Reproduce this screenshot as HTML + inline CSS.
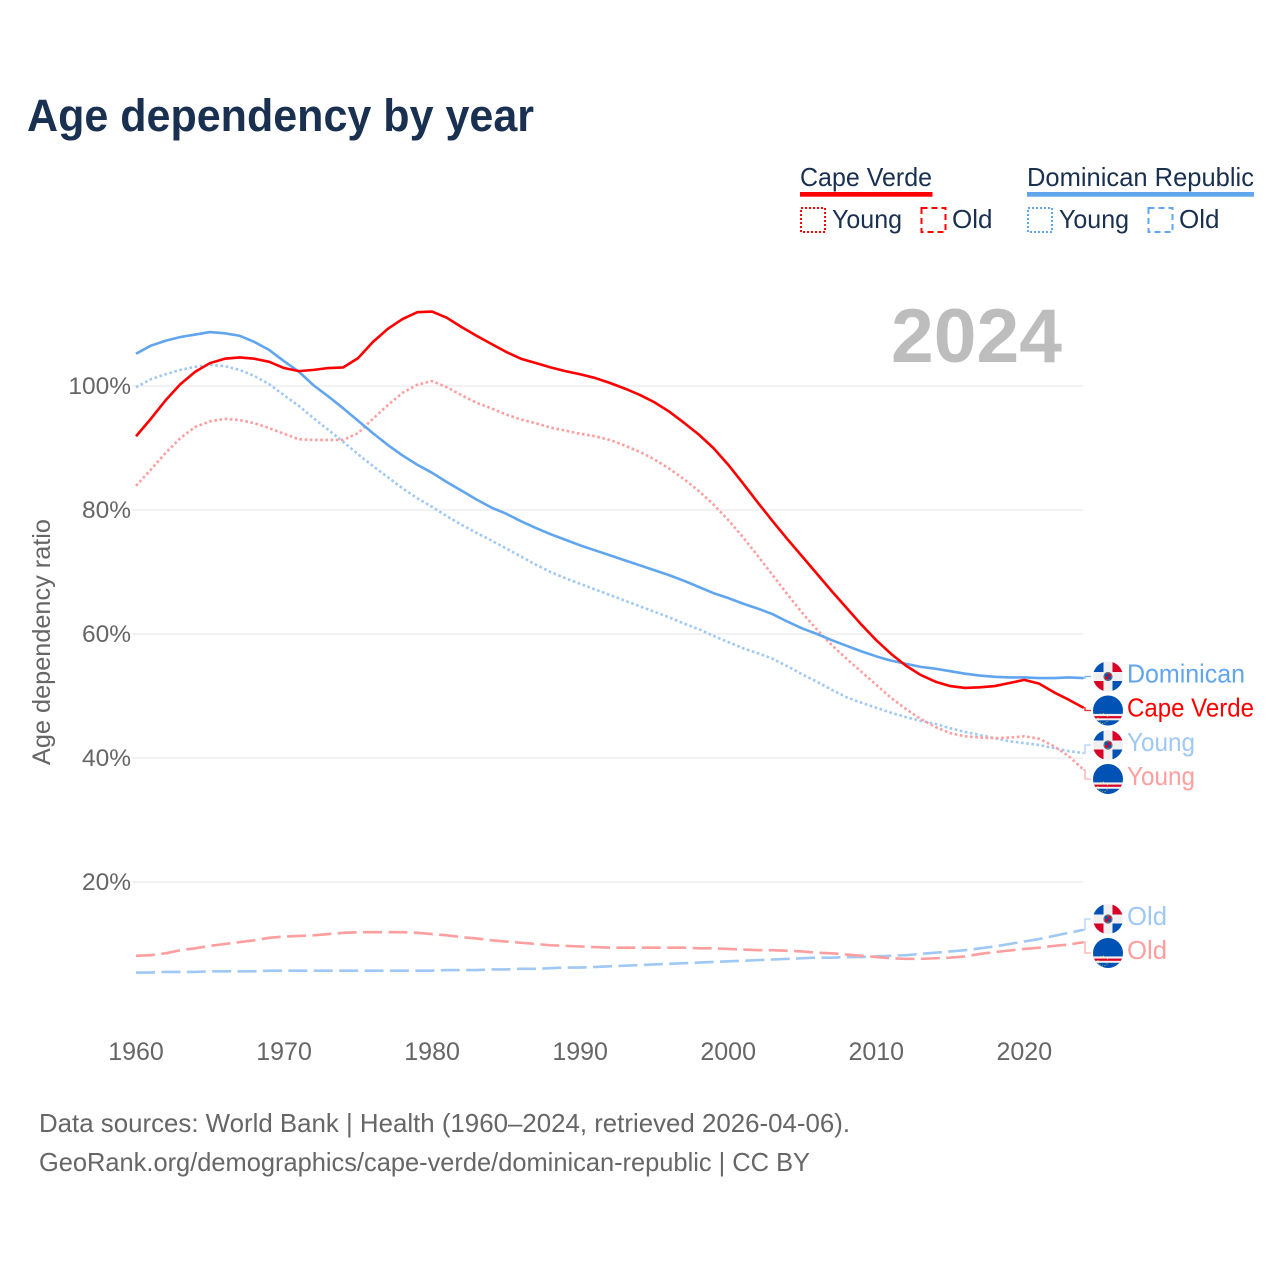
<!DOCTYPE html>
<html lang="en">
<head>
<meta charset="utf-8">
<title>Age dependency by year</title>
<style>
html,body{margin:0;padding:0;background:#fff;width:1280px;height:1280px;overflow:hidden}
svg{display:block}
text{font-family:"Liberation Sans",sans-serif}
</style>
</head>
<body>
<svg id="chart" xmlns="http://www.w3.org/2000/svg" width="1280" height="1280" viewBox="0 0 1280 1280">
  <defs>
    <clipPath id="flag-clip"><circle cx="0" cy="0" r="15"/></clipPath>
    <g id="flag-dr" clip-path="url(#flag-clip)">
      <rect x="-15" y="-15" width="30" height="30" fill="#f0f0f0"/>
      <rect x="-15" y="-15" width="10.5" height="10.5" fill="#0052b4"/>
      <rect x="4.5" y="-15" width="10.5" height="10.5" fill="#d80027"/>
      <rect x="-15" y="4.5" width="10.5" height="10.5" fill="#d80027"/>
      <rect x="4.5" y="4.5" width="10.5" height="10.5" fill="#0052b4"/>
      <circle r="4.6" fill="#6b6b7a"/>
      <rect x="-2.8" y="-2.8" width="2.8" height="2.8" fill="#0052b4"/>
      <rect x="0" y="-2.8" width="2.8" height="2.8" fill="#d80027"/>
      <rect x="-2.8" y="0" width="2.8" height="2.8" fill="#d80027"/>
      <rect x="0" y="0" width="2.8" height="2.8" fill="#0052b4"/>
    </g>
    <g id="flag-cv" clip-path="url(#flag-clip)">
      <rect x="-15" y="-15" width="30" height="30" fill="#0052b4"/>
      <rect x="-15" y="3.4" width="30" height="6.4" fill="#f0f0f0"/>
      <rect x="-15" y="5.6" width="30" height="2.2" fill="#d80027"/>
      <circle cx="-5" cy="8" r="5" fill="none" stroke="#ffda44" stroke-width="1" stroke-dasharray="1 1.6" opacity=".8"/>
    </g>
  </defs>

  <text x="27" y="131" font-size="45" font-weight="700" fill="#1a3050" textLength="507" lengthAdjust="spacingAndGlyphs">Age dependency by year</text>

  <g font-size="26" fill="#1a3050">
    <g>
      <text x="800" y="186" textLength="132" lengthAdjust="spacingAndGlyphs">Cape Verde</text>
      <rect x="800" y="192" width="132.5" height="4.7" fill="#ff0000"/>
      <rect x="801" y="208" width="24" height="24" fill="none" stroke="#ff0000" stroke-width="2" stroke-dasharray="2 2"/>
      <text x="832" y="228" textLength="70" lengthAdjust="spacingAndGlyphs">Young</text>
      <rect x="921.5" y="208" width="24" height="24" fill="none" stroke="#ff0000" stroke-width="2" stroke-dasharray="6 4"/>
      <text x="952" y="228" textLength="40.5" lengthAdjust="spacingAndGlyphs">Old</text>
    </g>
    <g>
      <text x="1027" y="186" textLength="227" lengthAdjust="spacingAndGlyphs">Dominican Republic</text>
      <rect x="1027" y="192" width="227" height="4.7" fill="#60a5ee"/>
      <rect x="1028" y="208" width="24" height="24" fill="none" stroke="#60a5ee" stroke-width="2" stroke-dasharray="2 2"/>
      <text x="1059" y="228" textLength="70" lengthAdjust="spacingAndGlyphs">Young</text>
      <rect x="1148.5" y="208" width="24" height="24" fill="none" stroke="#60a5ee" stroke-width="2" stroke-dasharray="6 4"/>
      <text x="1179" y="228" textLength="40.5" lengthAdjust="spacingAndGlyphs">Old</text>
    </g>
  </g>

  <text transform="translate(50,765) rotate(-90)" font-size="25" fill="#666666" textLength="246" lengthAdjust="spacingAndGlyphs">Age dependency ratio</text>

  <g id="grid"></g>
  <g id="y-ticks"></g>
  <g id="x-ticks"></g>

  <text x="891" y="362" font-size="76" font-weight="700" fill="#bdbdbd" textLength="171" lengthAdjust="spacingAndGlyphs">2024</text>

  <g id="series"></g>
  <g id="end-labels"></g>

  <g font-size="26" fill="#666666">
    <text x="39" y="1132" textLength="811" lengthAdjust="spacingAndGlyphs">Data sources: World Bank | Health (1960–2024, retrieved 2026-04-06).</text>
    <text x="39" y="1171" textLength="771" lengthAdjust="spacingAndGlyphs">GeoRank.org/demographics/cape-verde/dominican-republic | CC BY</text>
  </g>
</svg>
<script>
var startYear = 1960;
var yTickValues = [20, 40, 60, 80, 100];
var xTickValues = [1960, 1970, 1980, 1990, 2000, 2010, 2020];

var capeVerdeTotal = [91.9,94.7,97.7,100.3,102.3,103.7,104.4,104.6,104.4,103.9,102.9,102.4,102.6,102.9,103.0,104.5,107.1,109.2,110.8,111.9,112.0,111.0,109.5,108.1,106.8,105.5,104.4,103.7,103.0,102.4,101.9,101.3,100.5,99.6,98.6,97.4,95.9,94.1,92.2,90.0,87.3,84.3,81.2,78.2,75.3,72.5,69.7,66.9,64.2,61.5,59.0,56.8,54.9,53.4,52.3,51.6,51.3,51.4,51.6,52.1,52.6,52.0,50.6,49.4,48.1];
var dominicanTotal = [105.2,106.5,107.3,107.9,108.3,108.7,108.5,108.1,107.1,105.8,104.0,102.3,100.1,98.3,96.4,94.4,92.4,90.5,88.8,87.3,86.0,84.5,83.1,81.7,80.4,79.4,78.2,77.1,76.1,75.2,74.3,73.5,72.7,71.9,71.1,70.3,69.5,68.6,67.6,66.6,65.8,64.9,64.1,63.2,62.0,60.9,60.0,59.0,58.1,57.2,56.4,55.7,55.2,54.7,54.4,54.0,53.6,53.3,53.1,53.0,53.0,52.9,52.9,53.0,52.9];
var capeVerdeYoung = [83.9,86.5,89.2,91.6,93.4,94.3,94.7,94.5,94.0,93.2,92.3,91.4,91.3,91.3,91.3,92.4,94.7,96.9,98.9,100.2,100.8,99.8,98.5,97.3,96.4,95.4,94.6,94.0,93.3,92.8,92.3,91.9,91.3,90.4,89.4,88.2,86.7,85.0,83.1,80.9,78.4,75.6,72.6,69.5,66.4,63.4,60.7,58.2,56.0,53.9,51.8,49.7,47.9,46.3,45.0,44.0,43.5,43.3,43.2,43.3,43.5,43.1,41.9,40.3,38.1];
var dominicanYoung = [99.8,101.1,101.9,102.6,103.1,103.4,103.2,102.6,101.6,100.3,98.5,96.8,94.8,92.9,91.0,89.0,87.1,85.3,83.5,81.9,80.5,79.0,77.6,76.3,75.1,73.8,72.5,71.2,70.0,69.0,68.1,67.2,66.3,65.4,64.5,63.6,62.7,61.7,60.8,59.7,58.7,57.7,56.9,56.0,54.8,53.5,52.3,51.0,49.8,48.9,48.1,47.3,46.6,46.0,45.5,44.8,44.2,43.7,43.2,42.7,42.4,42.1,41.6,41.1,40.8];
var capeVerdeOld = [8.1,8.2,8.5,9.0,9.3,9.7,10.0,10.3,10.6,11.0,11.2,11.3,11.4,11.6,11.8,11.9,11.9,11.9,11.9,11.8,11.6,11.4,11.1,10.9,10.6,10.4,10.2,10.0,9.8,9.7,9.6,9.5,9.4,9.4,9.4,9.4,9.4,9.4,9.3,9.3,9.2,9.1,9.0,9.0,8.9,8.8,8.6,8.5,8.3,8.1,7.9,7.7,7.6,7.6,7.7,7.8,8.0,8.4,8.7,8.95,9.2,9.4,9.7,9.9,10.3];
var dominicanOld = [5.4,5.4,5.5,5.5,5.5,5.6,5.6,5.6,5.6,5.7,5.7,5.7,5.7,5.7,5.7,5.7,5.7,5.7,5.7,5.7,5.7,5.8,5.8,5.8,5.9,5.9,6.0,6.0,6.1,6.2,6.2,6.3,6.4,6.5,6.6,6.7,6.8,6.9,7.0,7.1,7.2,7.3,7.4,7.5,7.6,7.7,7.8,7.8,7.9,7.9,8.0,8.1,8.2,8.4,8.6,8.8,9.0,9.3,9.6,10.0,10.4,10.8,11.3,11.8,12.3];

var NS = 'http://www.w3.org/2000/svg';
function xScale(year) { return 136 + (year - 1960) * 14.805; }
function yScale(v) { return 1006 - v * 6.2; }
function make(tag, attrs, parent) {
  var el = document.createElementNS(NS, tag);
  for (var k in attrs) el.setAttribute(k, attrs[k]);
  parent.appendChild(el);
  return el;
}
var gridG = document.getElementById('grid');
var yG = document.getElementById('y-ticks');
var xG = document.getElementById('x-ticks');
var seriesG = document.getElementById('series');
var endG = document.getElementById('end-labels');

yTickValues.forEach(function (v) {
  var line = make('line', {x1: 132, x2: 1083, y1: yScale(v), y2: yScale(v), stroke: '#e9e9e9', 'stroke-width': 1.3}, gridG);
  
  
  var t = make('text', {x: 131, y: yScale(v) + 8, 'text-anchor': 'end', 'font-size': 24.5, fill: '#666666'}, yG);
  
  
  t.textContent = v + '%';
});

xTickValues.forEach(function (yr) {
  var t = make('text', {x: xScale(yr), y: 1060, 'text-anchor': 'middle', 'font-size': 25, fill: '#666666'}, xG);
  
  
  t.textContent = yr;
});

function linePath(values) {
  return values.map(function (v, i) {
    return (i ? 'L' : 'M') + xScale(startYear + i).toFixed(2) + ' ' + yScale(v).toFixed(2);
  }).join(' ');
}
function drawLine(values, color, dash) {
  var p = make('path', {d: linePath(values), fill: 'none', stroke: color, 'stroke-width': 2.6, 'stroke-linejoin': 'round'}, seriesG);
  if (dash) p.setAttribute('stroke-dasharray', dash);
  
  
  return p;
}
var blueFaint = '#9fc8f5';
var redFaint = '#ff9e9e';
var dotted = '2.6 2.6';
var dashed = '19 6.4';
drawLine(dominicanOld, blueFaint, dashed);
drawLine(capeVerdeOld, redFaint, dashed);
drawLine(dominicanYoung, blueFaint, dotted);
drawLine(capeVerdeYoung, redFaint, dotted);
drawLine(dominicanTotal, '#60a5ee', null);
drawLine(capeVerdeTotal, '#ff0000', null);

function drawEndLabel(values, slotY, flag, text, color, labelWidth) {
  var last = yScale(values[values.length - 1]);
  var c = make('path', {d: 'M1083 ' + last.toFixed(2) + ' H1085 V' + slotY + ' H1091', fill: 'none', stroke: color, 'stroke-width': 1.3, opacity: 0.85}, endG);
  
  
  var u = make('use', {href: '#' + flag, transform: 'translate(1108,' + slotY + ')'}, endG);
  
  
  var t = make('text', {x: 1127, y: slotY + 6, 'font-size': 26, fill: color, textLength: labelWidth, lengthAdjust: 'spacingAndGlyphs'}, endG);
  
  
  t.textContent = text;
}
drawEndLabel(dominicanTotal, 676.5, 'flag-dr', 'Dominican', '#60a5ee', 118);
drawEndLabel(capeVerdeTotal, 710.5, 'flag-cv', 'Cape Verde', '#ff0000', 127);
drawEndLabel(dominicanYoung, 745, 'flag-dr', 'Young', blueFaint, 68);
drawEndLabel(capeVerdeYoung, 779, 'flag-cv', 'Young', redFaint, 68);
drawEndLabel(dominicanOld, 919, 'flag-dr', 'Old', blueFaint, 40);
drawEndLabel(capeVerdeOld, 953, 'flag-cv', 'Old', redFaint, 40);
</script>
</body>
</html>
